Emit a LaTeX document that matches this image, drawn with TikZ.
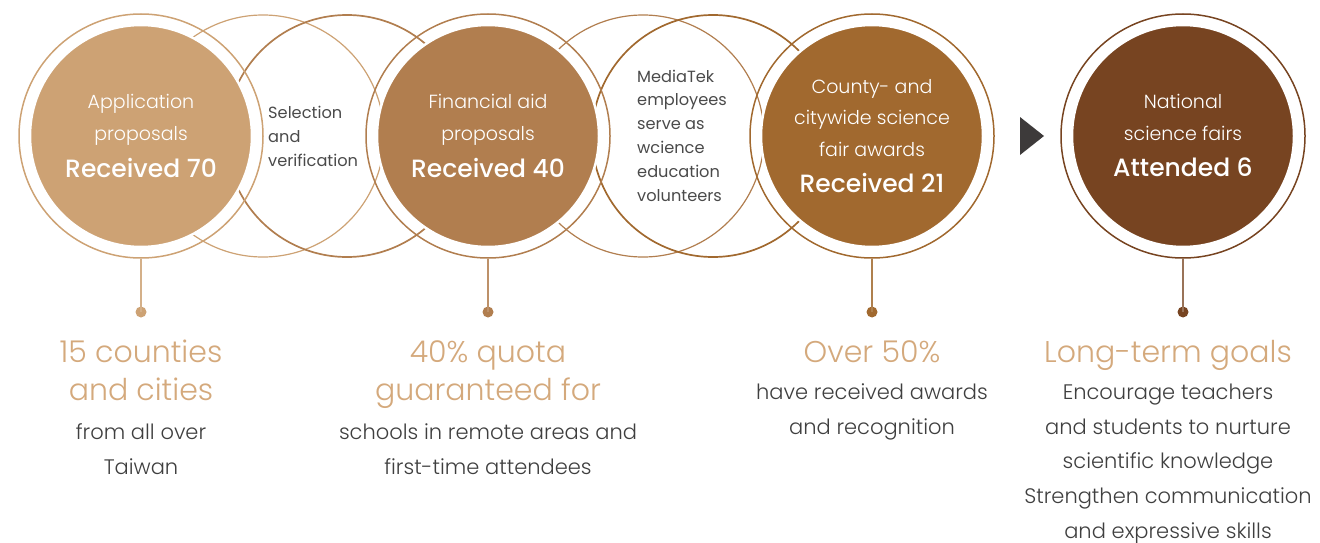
\documentclass[tikz,border=0pt]{standalone}
\usepackage{fontspec}
\setmainfont{Poppins}
\newfontfamily\plight{Poppins Light}
\newfontfamily\pmed{Poppins Medium}
\definecolor{cA}{HTML}{CDA274}
\definecolor{cB}{HTML}{B17E4F}
\definecolor{cC}{HTML}{A1692F}
\definecolor{cD}{HTML}{774421}
\definecolor{headcol}{HTML}{D4A97C}
\definecolor{bodycol}{HTML}{3F3F3F}
\definecolor{sidecol}{HTML}{4A4A4A}
\definecolor{tricol}{HTML}{3D3A3A}
\begin{document}
\begin{tikzpicture}[x=1pt,y=-1pt,
  disk/.style={circle,inner sep=0pt,minimum size=222pt,fill=#1,draw=white,line width=2.5pt},
  ring/.style={circle,inner sep=0pt,minimum size=244pt,draw=#1,line width=1.5pt},
  thinring/.style={draw=#1,line width=1.2pt},
  thickring/.style={draw=#1,line width=1.7pt},
  ctxt/.style={anchor=base,inner sep=0pt,text=white,font=\plight\fontsize{19}{22}\selectfont},
  cbig/.style={anchor=base,inner sep=0pt,text=white,font=\pmed\fontsize{25}{28}\selectfont},
  side/.style={anchor=base west,inner sep=0pt,text=sidecol,font=\fontsize{16.2}{19}\selectfont},
  head/.style={anchor=base,inner sep=0pt,text=headcol,font=\plight\fontsize{30}{34}\selectfont},
  body/.style={anchor=base,inner sep=0pt,text=bodycol,font=\plight\fontsize{21}{25}\selectfont},
  stem/.style={draw=#1,line width=1.5pt},
  dot/.style={circle,inner sep=0pt,minimum size=11pt,fill=#1},
]
\useasboundingbox (0,0) rectangle (1320,543);
% thin overlapping rings
\draw[thinring=cA] (263,136) circle[radius=121pt];
\draw[thickring=cB] (347,136) circle[radius=121pt];
\draw[thinring=cB] (643,136) circle[radius=121pt];
\draw[thickring=cC] (713,136) circle[radius=121pt];
% main circles
\node[ring=cA] (r1) at (141,136) {};
\node[ring=cB] (r2) at (488,136) {};
\node[ring=cC] (r3) at (872,136) {};
\node[ring=cD] (r4) at (1183,136) {};
\node[disk=cA] (c1) at (141,136) {};
\node[disk=cB] (c2) at (488,136) {};
\node[disk=cC] (c3) at (872,136) {};
\node[disk=cD] (c4) at (1183,136) {};
% circle texts
\node[ctxt] (t1a) at (141,108) {Application};
\node[ctxt] (t1b) at (141,140) {proposals};
\node[cbig] (t1c) at (141,177) {Received 70};
\node[ctxt] (t2a) at (488,108) {Financial aid};
\node[ctxt] (t2b) at (488,140) {proposals};
\node[cbig] (t2c) at (488,177) {Received 40};
\node[ctxt] (t3a) at (872,93) {County- and};
\node[ctxt] (t3b) at (872,124) {citywide science};
\node[ctxt] (t3c) at (872,156) {fair awards};
\node[cbig] (t3d) at (872,192) {Received 21};
\node[ctxt] (t4a) at (1183,108) {National};
\node[ctxt] (t4b) at (1183,140) {science fairs};
\node[cbig] (t4c) at (1183,176) {Attended 6};
% side texts
\node[side] (s1a) at (268,118) {Selection};
\node[side] (s1b) at (268,142) {and};
\node[side] (s1c) at (268,166) {verification};
\node[side] (s2a) at (637,82) {MediaTek};
\node[side] (s2b) at (637,106) {employees};
\node[side] (s2c) at (637,129) {serve as};
\node[side] (s2d) at (637,153) {wcience};
\node[side] (s2e) at (637,177) {education};
\node[side] (s2f) at (637,201) {volunteers};
% arrow triangle
\fill[tricol] (1020,117) -- (1044,136) -- (1020,155) -- cycle;
% stems and dots
\node[dot=cA] (d1) at (141,312) {};
\node[dot=cB] (d2) at (488,312) {};
\node[dot=cC] (d3) at (872,312) {};
\node[dot=cD] (d4) at (1183,312) {};
\draw[stem=cA!85!white] (r1.south) -- (d1.center);
\draw[stem=cB!85!white] (r2.south) -- (d2.center);
\draw[stem=cC!85!white] (r3.south) -- (d3.center);
\draw[stem=cD!75!white] (r4.south) -- (d4.center);
% bottom texts
\node[head] (h1a) at (141,362) {15 counties};
\node[head] (h1b) at (141,400) {and cities};
\node[body] (b1a) at (141,439) {from all over};
\node[body] (b1b) at (141,474) {Taiwan};
\node[head] (h2a) at (488,362) {40\% quota};
\node[head] (h2b) at (488,400) {guaranteed for};
\node[body] (b2a) at (488,439) {schools in remote areas and};
\node[body] (b2b) at (488,474) {first-time attendees};
\node[head] (h3a) at (872,362) {Over 50\%};
\node[body] (b3a) at (872,399) {have received awards};
\node[body] (b3b) at (872,434) {and recognition};
\node[head] (h4a) at (1168,362) {Long-term goals};
\node[body] (b4a) at (1168,399) {Encourage teachers};
\node[body] (b4b) at (1168,434) {and students to nurture};
\node[body] (b4c) at (1168,468) {scientific knowledge};
\node[body] (b4d) at (1168,503) {Strengthen communication};
\node[body] (b4e) at (1168,538) {and expressive skills};
\end{tikzpicture}
\end{document}
